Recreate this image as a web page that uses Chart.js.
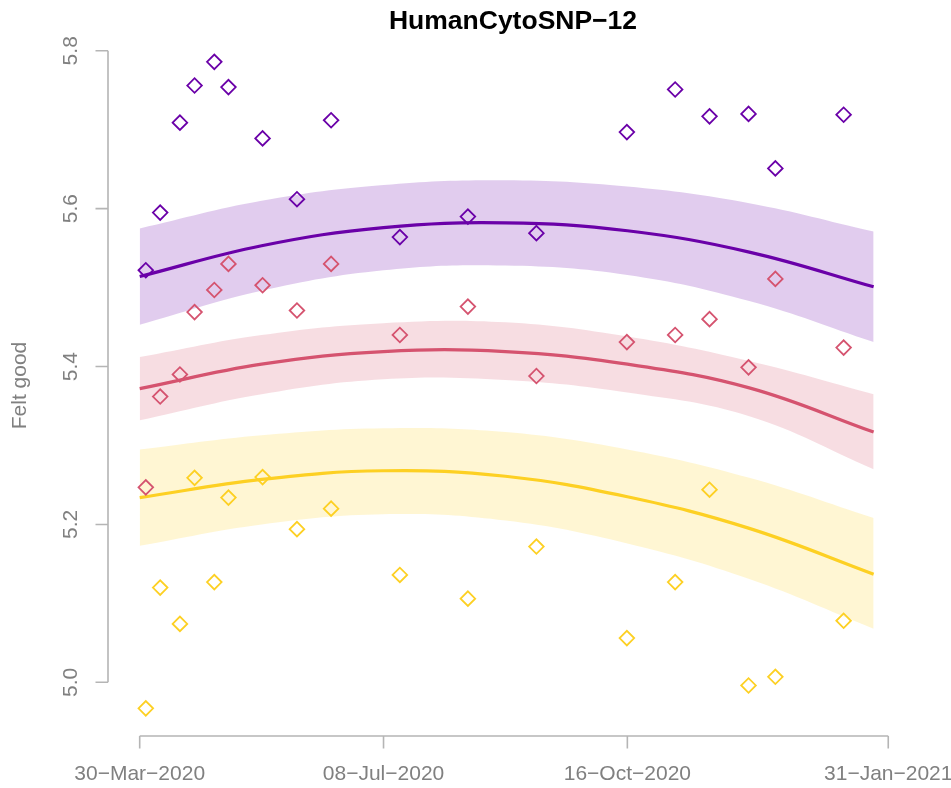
<!DOCTYPE html>
<html>
<head>
<meta charset="utf-8">
<script src="https://cdn.jsdelivr.net/npm/chart.js@4.4.1/dist/chart.umd.min.js"></script>
<style>
  html, body { margin: 0; padding: 0; background: #fff; }
  #wrap { width: 951px; height: 788px; }
</style>
</head>
<body>
<div id="wrap"><canvas id="myChart" width="951" height="788"></canvas></div>
<script>
// x values are days since 30-Mar-2020
const xTickDays = [0, 100, 200, 307];
const xTickLabels = ['30\u2212Mar\u22122020', '08\u2212Jul\u22122020', '16\u2212Oct\u22122020', '31\u2212Jan\u22122021'];
const yTicks = [5.0, 5.2, 5.4, 5.6, 5.8];

// observed points (one per survey wave)
const pointDays = [2.5, 8.4, 16.5, 22.5, 30.6, 36.4, 50.4, 64.5, 78.5, 106.7, 134.6, 162.7, 199.8, 219.6, 233.7, 249.7, 260.7, 288.7];
const purplePoints = [5.522, 5.595, 5.709, 5.756, 5.786, 5.754, 5.689, 5.612, 5.712, 5.564, 5.590, 5.569, 5.697, 5.751, 5.717, 5.720, 5.651, 5.719];
const pinkPoints   = [5.247, 5.362, 5.390, 5.469, 5.497, 5.530, 5.503, 5.471, 5.530, 5.440, 5.476, 5.388, 5.431, 5.440, 5.460, 5.399, 5.511, 5.424];
const yellowPoints = [4.967, 5.120, 5.074, 5.259, 5.127, 5.234, 5.260, 5.194, 5.220, 5.136, 5.106, 5.172, 5.056, 5.127, 5.244, 4.996, 5.007, 5.078];

const curveDays = [0, 50, 100, 150, 200, 250, 301];
const purpleFit   = [5.514, 5.553, 5.576, 5.582, 5.572, 5.545, 5.501];
const purpleUpper = [5.575, 5.610, 5.630, 5.636, 5.628, 5.607, 5.571];
const purpleLower = [5.453, 5.496, 5.522, 5.528, 5.516, 5.483, 5.431];
const pinkFit   = [5.372, 5.403, 5.419, 5.419, 5.403, 5.373, 5.317];
const pinkUpper = [5.412, 5.440, 5.455, 5.456, 5.438, 5.407, 5.365];
const pinkLower = [5.332, 5.365, 5.384, 5.383, 5.367, 5.337, 5.270];
const yellowFit   = [5.234, 5.257, 5.268, 5.261, 5.235, 5.195, 5.137];
const yellowUpper = [5.295, 5.313, 5.322, 5.317, 5.295, 5.259, 5.208];
const yellowLower = [5.173, 5.200, 5.213, 5.205, 5.176, 5.131, 5.068];

const purple = '#6A00A8', pink = '#D5536F', yellow = '#FDD023';
const purpleBand = 'rgba(106, 0, 168, 0.2)';
const pinkBand = 'rgba(213, 83, 111, 0.2)';
const yellowBand = 'rgba(253, 208, 35, 0.2)';
const axisGrey = '#b5b5b5', labelGrey = '#808080';
const fontFamily = '"Liberation Sans", Arial, Helvetica, sans-serif';

function toXY(xs, ys) {
    return xs.map((x, i) => ({ x: x, y: ys[i] }));
}

function bandPair(lower, upper, color) {
    return [
        { data: toXY(curveDays, lower), borderColor: 'rgba(0,0,0,0)', borderWidth: 0, pointRadius: 0,
          fill: false, tension: 0.4, order: 3 },
        { data: toXY(curveDays, upper), borderColor: 'rgba(0,0,0,0)', borderWidth: 0, pointRadius: 0,
          fill: '-1', backgroundColor: color, tension: 0.4, order: 3 }
    ];
}

function fitLine(values, color) {
    return { data: toXY(curveDays, values), borderColor: color, borderWidth: 3.2, pointRadius: 0,
             fill: false, tension: 0.4, order: 2 };
}

function pointSet(values, color) {
    return { data: toXY(pointDays, values), showLine: false, pointStyle: 'rectRot', pointRadius: 7.3,
             pointBorderWidth: 1.8, pointBorderColor: color, pointBackgroundColor: 'rgba(0,0,0,0)',
             borderColor: color, fill: false, order: 1 };
}

// R-style axes: lines only between first and last tick, rotated y labels
const baseAxes = {
    id: 'baseAxes',
    afterDraw(chart) {
        const ctx = chart.ctx;
        const xs = chart.scales.x, ys = chart.scales.y;
        const area = chart.chartArea;
        ctx.save();
        ctx.strokeStyle = axisGrey;
        ctx.lineWidth = 1.6;
        ctx.beginPath();
        ctx.moveTo(xs.getPixelForValue(xTickDays[0]), area.bottom);
        ctx.lineTo(xs.getPixelForValue(xTickDays[xTickDays.length - 1]), area.bottom);
        xTickDays.forEach(d => {
            const px = xs.getPixelForValue(d);
            ctx.moveTo(px, area.bottom);
            ctx.lineTo(px, area.bottom + 12.5);
        });
        ctx.moveTo(area.left, ys.getPixelForValue(yTicks[0]));
        ctx.lineTo(area.left, ys.getPixelForValue(yTicks[yTicks.length - 1]));
        yTicks.forEach(v => {
            const py = ys.getPixelForValue(v);
            ctx.moveTo(area.left, py);
            ctx.lineTo(area.left - 12.5, py);
        });
        ctx.stroke();

        ctx.fillStyle = labelGrey;
        ctx.font = '21px ' + fontFamily;
        ctx.textAlign = 'center';
        ctx.textBaseline = 'middle';
        xTickLabels.forEach((t, i) => ctx.fillText(t, xs.getPixelForValue(xTickDays[i]), 774));
        yTicks.forEach(v => {
            ctx.save();
            ctx.translate(71.5, ys.getPixelForValue(v));
            ctx.rotate(-Math.PI / 2);
            ctx.fillText(v.toFixed(1), 0, 0);
            ctx.restore();
        });
        ctx.save();
        ctx.translate(20, (area.top + area.bottom) / 2);
        ctx.rotate(-Math.PI / 2);
        ctx.fillText('Felt good', 0, 0);
        ctx.restore();

        ctx.fillStyle = '#000';
        ctx.font = 'bold 26.5px ' + fontFamily;
        ctx.fillText('HumanCytoSNP\u221212', (area.left + area.right) / 2, 22);
        ctx.restore();
    }
};

var ctx = document.getElementById('myChart').getContext('2d');
var myChart = new Chart(ctx, {
    type: 'line',
    data: {
        datasets: [
            ...bandPair(purpleLower, purpleUpper, purpleBand),
            ...bandPair(pinkLower, pinkUpper, pinkBand),
            ...bandPair(yellowLower, yellowUpper, yellowBand),
            fitLine(purpleFit, purple),
            fitLine(pinkFit, pink),
            fitLine(yellowFit, yellow),
            pointSet(purplePoints, purple),
            pointSet(pinkPoints, pink),
            pointSet(yellowPoints, yellow)
        ]
    },
    options: {
        responsive: false,
        animation: false,
        layout: {
            padding: { left: 108, top: 35, right: 33, bottom: 52 }
        },
        plugins: {
            legend: { display: false },
            title: { display: false },
            tooltip: { enabled: false },
            filler: { drawTime: 'beforeDatasetsDraw' }
        },
        scales: {
            x: { type: 'linear', display: false, min: -13, max: 319.2 },
            y: { type: 'linear', display: false, min: 4.932, max: 5.82 }
        }
    },
    plugins: [baseAxes]
});
</script>
</body>
</html>
